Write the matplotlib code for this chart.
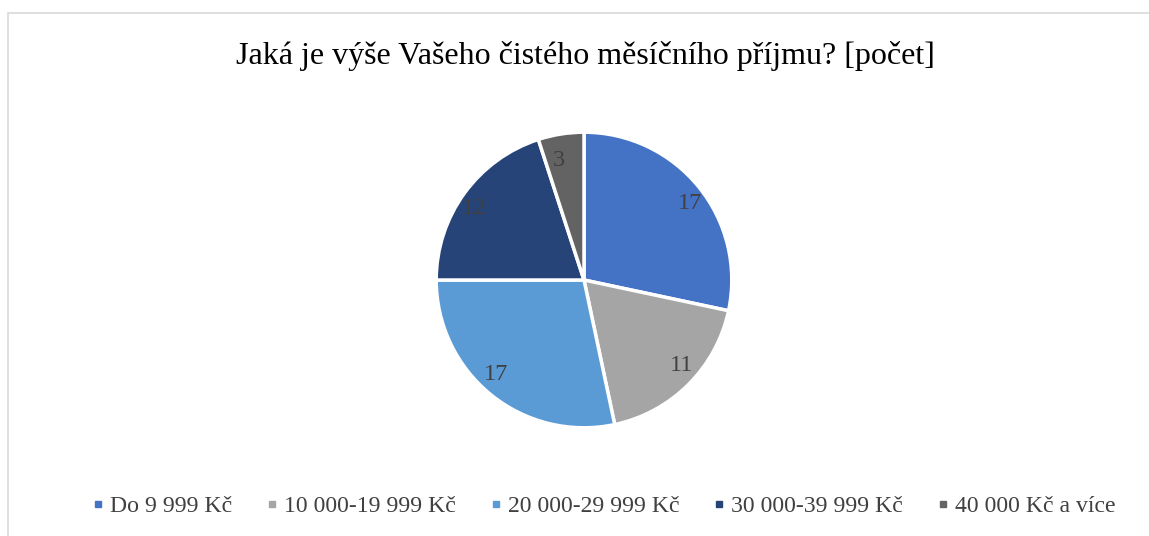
import matplotlib
matplotlib.use('Agg')
import matplotlib.pyplot as plt
from matplotlib.patches import Rectangle
from matplotlib.lines import Line2D

# data
categories = ['Do 9 999 Kč', '10 000-19 999 Kč', '20 000-29 999 Kč',
              '30 000-39 999 Kč', '40 000 Kč a více']
counts = [17, 11, 17, 12, 3]
colors = ['#4472C4', '#A5A5A5', '#5B9BD5', '#264478', '#636363']
title = 'Jaká je výše Vašeho čistého měsíčního příjmu? [počet]'

plt.rcParams['font.family'] = ['Liberation Serif', 'DejaVu Serif']

W, H = 1149, 536
fig = plt.figure(figsize=(W / 100, H / 100), dpi=100)

# chart area border
fig.patches.append(Rectangle((8 / W, -0.1), 1.2, 1 - 13 / H + 0.1,
                             transform=fig.transFigure, fill=False,
                             edgecolor='#D9D9D9', linewidth=1.2))

cx, cy, r = 584, 280, 148
ax = fig.add_axes([(cx - r - 2) / W, (H - cy - r - 2) / H,
                   (2 * r + 4) / W, (2 * r + 4) / H])
wedges, texts = ax.pie(counts, colors=colors, startangle=90, counterclock=False,
                       labels=[str(c) for c in counts], labeldistance=0.82,
                       wedgeprops=dict(edgecolor='white', linewidth=2.5),
                       textprops=dict(color='#404040', fontsize=17.5))
ax.set_aspect('equal')
ax.set_xlim(-1.015, 1.015)
ax.set_ylim(-1.015, 1.015)

fig.text(585 / W, 1 - 56 / H, title, ha='center', va='center',
         fontsize=23, color='#000000')

handles = [Line2D([], [], marker='s', linestyle='none', markersize=4.5,
                  markerfacecolor=c, markeredgecolor=c) for c in colors]
fig.legend(handles, categories, loc='center', bbox_to_anchor=(605 / W, 1 - 506 / H),
           ncol=5, frameon=False, fontsize=17.1, handlelength=0.3,
           handletextpad=0.35, columnspacing=1.54, labelcolor='#404040')

fig.savefig('out.png', dpi=100, facecolor='white')
